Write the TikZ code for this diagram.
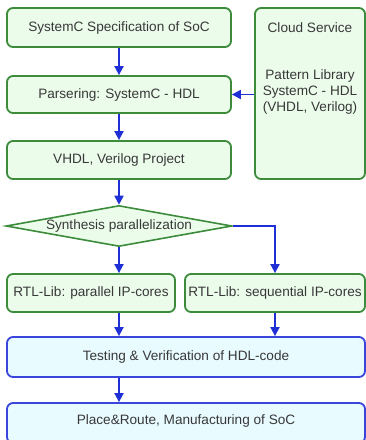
\documentclass[tikz,border=0pt]{standalone}
\usepackage{fontspec}
\setmainfont{Liberation Sans}
\usetikzlibrary{shapes.geometric,arrows.meta,calc}
\definecolor{gborder}{HTML}{3C8C3C}
\definecolor{gfill}{HTML}{ECFCEB}
\definecolor{bborder}{HTML}{3A45DD}
\definecolor{bfill}{HTML}{E8FBFF}
\definecolor{arrowblue}{HTML}{1E2FD6}
\definecolor{txtgray}{HTML}{383838}
\tikzset{
  x=1pt, y=-1pt,
  every node/.style={font=\fontsize{13.6}{16}\selectfont, text=txtgray},
  gbox/.style={draw=gborder, fill=gfill, line width=1.8pt, rounded corners=6pt, inner sep=0pt},
  bbox/.style={draw=bborder, fill=bfill, line width=1.8pt, rounded corners=6pt, inner sep=0pt},
  dia/.style={diamond, draw=gborder, fill=gfill, line width=1.6pt, inner sep=0pt, aspect=5.5},
  arr/.style={draw=arrowblue, line width=1.8pt, -{Triangle[width=9pt,length=9pt]}},
}
\begin{document}
\begin{tikzpicture}
\useasboundingbox (0,0) rectangle (366,440);
\clip (0,0) rectangle (366,440);
\node[gbox, minimum width=224pt, minimum height=39pt] (spec) at (119,27.5) {SystemC Specification of SoC};
\node[gbox, minimum width=224pt, minimum height=37pt] (pars) at (119,94.5) {Parsering: SystemC - HDL};
\node[gbox, minimum width=224pt, minimum height=38pt] (proj) at (119,160) {VHDL, Verilog Project};
\node[gbox, minimum width=110pt, minimum height=171pt] (cloud) at (310,93.5) {};
\node[align=center, anchor=north, inner sep=0pt] (cloudtxt) at ($(cloud.north)+(0,15)$)
  {Cloud Service\\[31pt]Pattern Library\\SystemC - HDL\\(VHDL, Verilog)};
\node[dia, minimum width=226pt, minimum height=41pt] (synth) at (119,226) {Synthesis parallelization};
\node[gbox, minimum width=168pt, minimum height=38pt] (rtlpar) at (91,293) {RTL-Lib: parallel IP-cores};
\node[gbox, minimum width=180pt, minimum height=38pt] (rtlseq) at (275,293) {RTL-Lib: sequential IP-cores};
\node[bbox, minimum width=358pt, minimum height=40pt] (test) at (186,357) {Testing \& Verification of HDL-code};
\node[bbox, minimum width=358pt, minimum height=40pt] (place) at (186,423) {};
\node[inner sep=0pt] (placetxt) at (186,421) {Place\&Route, Manufacturing of SoC};
\draw[arr] (spec.south) -- (pars.north);
\draw[arr] (pars.south) -- (proj.north);
\draw[arr] (cloud.west |- pars.east) -- (pars.east);
\draw[arr] (proj.south) -- (synth.north);
\draw[arr] (synth.south) -- (synth.south |- rtlpar.north);
\draw[arr] (synth.east) -| (rtlseq.north);
\draw[arr] (synth.south |- rtlpar.south) -- (synth.south |- test.north);
\draw[arr] (rtlseq.south) -- (rtlseq.south |- test.north);
\draw[arr] (synth.south |- test.south) -- (synth.south |- place.north);
\end{tikzpicture}
\end{document}
